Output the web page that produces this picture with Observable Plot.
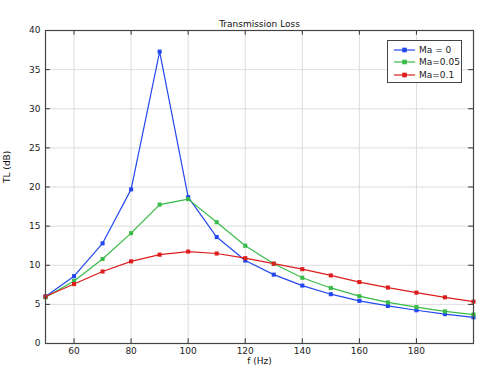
<!DOCTYPE html>
<html><head><meta charset="utf-8">
<script src="https://cdn.jsdelivr.net/npm/d3@7"></script>
<script src="https://cdn.jsdelivr.net/npm/@observablehq/plot@0.6"></script>
<style>
body{margin:0;background:#fff;font-family:"DejaVu Sans",sans-serif;}
#wrap{position:relative;width:487px;height:369px;}
#legend{position:absolute;left:387px;top:40px;width:75px;height:43px;border:1.5px solid #444;background:#fff;font-size:9px;color:#222;box-sizing:border-box;padding-top:3px;}
.row{display:flex;align-items:center;height:12.3px;padding-left:6px;}
.row svg{margin-right:4px;}
</style></head><body>
<div id="wrap"><div id="legend"></div></div>
<script>
const freq = [50,60,70,80,90,100,110,120,130,140,150,160,170,180,190,200];
const ma0 = [6.0,8.6,12.8,19.7,37.3,18.7,13.6,10.6,8.8,7.4,6.3,5.45,4.8,4.25,3.75,3.35];
const ma005 = [5.9,8.0,10.8,14.1,17.75,18.45,15.5,12.5,10.2,8.4,7.1,6.05,5.25,4.65,4.1,3.7];
const ma01 = [6.0,7.6,9.2,10.5,11.35,11.75,11.5,10.9,10.2,9.5,8.7,7.85,7.15,6.5,5.9,5.35];
const seriesNames = ["Ma = 0","Ma=0.05","Ma=0.1"];
const seriesColors = ["#2448f0","#38bb48","#dd1c1c"];
const xTicks = [60,80,100,120,140,160,180];
const yTicks = [0,5,10,15,20,25,30,35,40];

const data = [];
[ma0, ma005, ma01].forEach((vals, i) => vals.forEach((v, j) => data.push({f: freq[j], tl: v, s: seriesNames[i]})));

const font = "DejaVu Sans";
const chart = Plot.plot({
  width: 487, height: 369,
  marginLeft: 45, marginRight: 14, marginTop: 30, marginBottom: 26,
  style: {fontFamily: font, fontSize: "9px", color: "#222", background: "#fff"},
  x: {domain: [50, 200]},
  y: {domain: [0, 40]},
  color: {domain: seriesNames, range: seriesColors},
  marks: [
    Plot.gridX(xTicks, {stroke: "#ddd", strokeOpacity: 1}),
    Plot.gridY(yTicks, {stroke: "#ddd", strokeOpacity: 1}),
    Plot.ruleX(xTicks, {x: d => d, y1: 0, y2: 0.6, stroke: "#333"}),
    Plot.ruleX(xTicks, {x: d => d, y1: 40, y2: 39.4, stroke: "#333"}),
    Plot.ruleY(yTicks, {y: d => d, x1: 50, x2: 51.7, stroke: "#333"}),
    Plot.ruleY(yTicks, {y: d => d, x1: 200, x2: 198.3, stroke: "#333"}),
    Plot.axisX(xTicks, {tickSize: 0, tickPadding: 4, label: null, fill: "#222"}),
    Plot.axisY(yTicks, {tickSize: 0, tickPadding: 5, label: null, fill: "#222"}),
    Plot.line(data, {x: "f", y: "tl", z: "s", stroke: "s", strokeWidth: 1.2}),
    Plot.dot(data, {x: "f", y: "tl", fill: "s", symbol: "square", r: 2.3, stroke: null}),
    Plot.frame({stroke: "#444", strokeWidth: 1.2}),
    Plot.text(["Transmission Loss"], {frameAnchor: "top", lineAnchor: "middle", dy: -6, fontSize: 9, fill: "#111"}),
    Plot.text(["f (Hz)"], {frameAnchor: "bottom", lineAnchor: "middle", dy: 18, fontSize: 9, fill: "#111"}),
    Plot.text(["TL (dB)"], {frameAnchor: "left", dx: -38, dy: -4, rotate: -90, fontSize: 9, fill: "#111"})
  ]
});
document.getElementById("wrap").prepend(chart);

const leg = document.getElementById("legend");
seriesNames.forEach((n, i) => {
  const row = document.createElement("div");
  row.className = "row";
  row.innerHTML = `<svg width="21" height="8"><line x1="0" x2="21" y1="4" y2="4" stroke="${seriesColors[i]}" stroke-width="1.2"/><rect x="8.2" y="1.7" width="4.6" height="4.6" fill="${seriesColors[i]}"/></svg><span>${n}</span>`;
  leg.appendChild(row);
});
</script>
</body></html>
